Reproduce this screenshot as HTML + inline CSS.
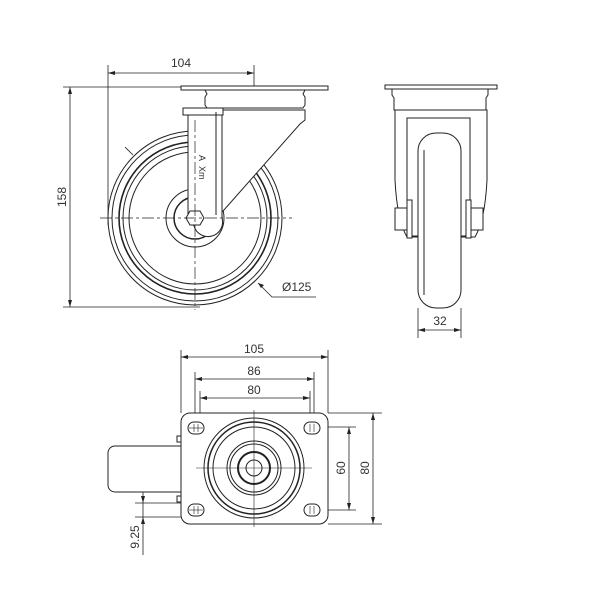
<!DOCTYPE html>
<html><head><style>body{margin:0;background:#fff}svg{display:block}text{font-family:"Liberation Sans",sans-serif;font-size:12px;fill:#333;stroke:none}</style></head>
<body>
<svg width="600" height="600" viewBox="0 0 600 600" xmlns="http://www.w3.org/2000/svg" fill="none" stroke="#222" stroke-width="1">
<!-- SIDE VIEW -->
<g stroke-width="0.8">
<line x1="108" y1="65" x2="108" y2="225"/><line x1="254" y1="65" x2="254" y2="90"/>
<line x1="108" y1="73" x2="254" y2="73"/>
<line x1="63" y1="87" x2="185" y2="87"/><line x1="63" y1="307" x2="200" y2="307"/>
<line x1="70" y1="87" x2="70" y2="307"/>
<polyline points="258,283 272,297 316,297"/>
<line x1="125" y1="147" x2="133" y2="155"/>
</g>
<g fill="#222" stroke="none">
<path d="M108,73 l7,-2 v4z"/><path d="M254,73 l-7,-2 v4z"/>
<path d="M70,87 l-2,7 h4z"/><path d="M70,307 l-2,-7 h4z"/>
<path d="M258,283 l6,2 l-3,3z"/>
</g>
<text x="181" y="67" text-anchor="middle">104</text>
<text transform="translate(66,197) rotate(-90)" text-anchor="middle">158</text>
<text x="282" y="291">Ø125</text>
<g fill="#fff">
<circle cx="195" cy="218" r="87"/>
<circle cx="195" cy="218" r="83"/>
<circle cx="195" cy="218" r="76" stroke-width="1.6"/>
<circle cx="195" cy="218" r="72"/>
<circle cx="195" cy="218" r="66"/>
<circle cx="195" cy="218" r="29"/>
<circle cx="195" cy="218" r="21" stroke-width="1.5"/>
<rect x="181" y="86" width="147" height="4"/>
<path d="M205,90 h100 l-2,4 l2,3 v8 l-2,3 h-96 l-2,-3 v-8 l2,-3z"/>
<path d="M222,110 h83 v10 l-5,4 l-84,95 h-4z"/>
<path d="M188,115 h34 v103 a14,14 0 0 1 -28,8 l-6,-8 z"/>
<rect x="183" y="108" width="40" height="7"/>
<line x1="216" y1="112" x2="216" y2="215"/>
<polygon points="190,211 200,211 204,218 200,225 190,225 186,218"/>
</g>
<text transform="translate(199,155) rotate(90)" style="font-size:9px">A</text>
<text transform="translate(199,166) rotate(90)" style="font-size:9px">Xm</text>
<g stroke-width="0.7">
<line x1="100" y1="218" x2="292" y2="218" stroke-dasharray="12,3,3,3"/>
<line x1="195" y1="120" x2="195" y2="310" stroke-dasharray="12,3,3,3"/>
</g>
<!-- FRONT VIEW -->
<g fill="#fff">
<rect x="385" y="85" width="112" height="4"/>
<path d="M392,89 h96 v6 l-2,3 v12 h-92 v-12 l-2,-3z"/>
<path d="M395,110 h92 v70 q-2,40 -12,57 h-68 q-10,-17 -12,-57z"/>
<path d="M407,118 h63 v118 h-63z"/>
<rect x="418" y="133" width="43" height="175" rx="18"/>
<line x1="424" y1="150" x2="424" y2="295"/>
<rect x="395" y="208" width="12" height="22"/>
<rect x="470" y="208" width="13" height="22"/>
<rect x="407" y="200" width="5" height="38"/><rect x="466" y="200" width="5" height="38"/>
</g>
<g stroke-width="0.8">
<line x1="418" y1="308" x2="418" y2="338"/><line x1="461" y1="308" x2="461" y2="338"/>
<line x1="418" y1="330" x2="461" y2="330"/>
</g>
<g fill="#222" stroke="none"><path d="M418,330 l7,-2 v4z"/><path d="M461,330 l-7,-2 v4z"/></g>
<text x="440" y="325" text-anchor="middle">32</text>
<!-- PLAN VIEW -->
<g stroke-width="0.8">
<line x1="181" y1="350" x2="181" y2="413"/><line x1="328" y1="350" x2="328" y2="413"/>
<line x1="181" y1="357" x2="328" y2="357"/>
<line x1="195" y1="372" x2="195" y2="430"/><line x1="314" y1="372" x2="314" y2="430"/>
<line x1="195" y1="379" x2="314" y2="379"/>
<line x1="200" y1="391" x2="200" y2="430"/><line x1="310" y1="391" x2="310" y2="430"/>
<line x1="200" y1="398" x2="310" y2="398"/>
<line x1="328" y1="413" x2="382" y2="413"/><line x1="328" y1="524" x2="382" y2="524"/>
<line x1="312" y1="427" x2="356" y2="427"/><line x1="312" y1="510" x2="356" y2="510"/>
<line x1="349" y1="427" x2="349" y2="510"/><line x1="373" y1="413" x2="373" y2="524"/>
<line x1="135" y1="503" x2="181" y2="503"/><line x1="135" y1="517" x2="181" y2="517"/>
<line x1="143" y1="492" x2="143" y2="555"/>
</g>
<g fill="#222" stroke="none">
<path d="M181,357 l7,-2 v4z"/><path d="M328,357 l-7,-2 v4z"/>
<path d="M195,379 l7,-2 v4z"/><path d="M314,379 l-7,-2 v4z"/>
<path d="M200,398 l7,-2 v4z"/><path d="M310,398 l-7,-2 v4z"/>
<path d="M349,427 l-2,7 h4z"/><path d="M349,510 l-2,-7 h4z"/>
<path d="M373,413 l-2,7 h4z"/><path d="M373,524 l-2,-7 h4z"/>
<path d="M143,503 l-2,-7 h4z"/><path d="M143,517 l-2,7 h4z"/>
</g>
<text x="254" y="353" text-anchor="middle">105</text>
<text x="254" y="375" text-anchor="middle">86</text>
<text x="254" y="394" text-anchor="middle">80</text>
<text transform="translate(345,468) rotate(-90)" text-anchor="middle">60</text>
<text transform="translate(369,468) rotate(-90)" text-anchor="middle">80</text>
<text transform="translate(139,537) rotate(-90)" text-anchor="middle">9.25</text>
<path d="M181,446 h-66 a7,7 0 0 0 -7,7 v32 a7,7 0 0 0 7,7 h66" fill="#fff"/>
<rect x="177" y="436" width="4" height="6"/><rect x="177" y="496" width="4" height="6"/>
<rect x="181" y="413" width="147" height="111" rx="9" fill="#fff"/>
<g fill="#fff">
<rect x="188" y="422" width="16" height="12" rx="6"/><rect x="304" y="422" width="16" height="12" rx="6"/>
<rect x="188" y="504" width="16" height="12" rx="6"/><rect x="304" y="504" width="16" height="12" rx="6"/>
</g>
<g stroke-width="0.6">
<line x1="194" y1="424" x2="194" y2="432"/><line x1="198" y1="424" x2="198" y2="432"/><line x1="189" y1="428" x2="203" y2="428"/>
<line x1="310" y1="424" x2="310" y2="432"/><line x1="314" y1="424" x2="314" y2="432"/>
<line x1="194" y1="506" x2="194" y2="514"/><line x1="198" y1="506" x2="198" y2="514"/><line x1="189" y1="510" x2="203" y2="510"/>
<line x1="310" y1="506" x2="310" y2="514"/><line x1="314" y1="506" x2="314" y2="514"/>
</g>
<circle cx="254" cy="468" r="50"/>
<circle cx="254" cy="468" r="46" stroke-width="1.5"/>
<circle cx="254" cy="468" r="41"/>
<circle cx="254" cy="468" r="27"/>
<circle cx="254" cy="468" r="24"/>
<circle cx="254" cy="468" r="16" stroke-width="2"/>
<circle cx="254" cy="468" r="8"/>
<g stroke-width="0.6">
<line x1="196" y1="468" x2="312" y2="468"/><line x1="254" y1="410" x2="254" y2="527"/>
</g>
</svg>
</body></html>
